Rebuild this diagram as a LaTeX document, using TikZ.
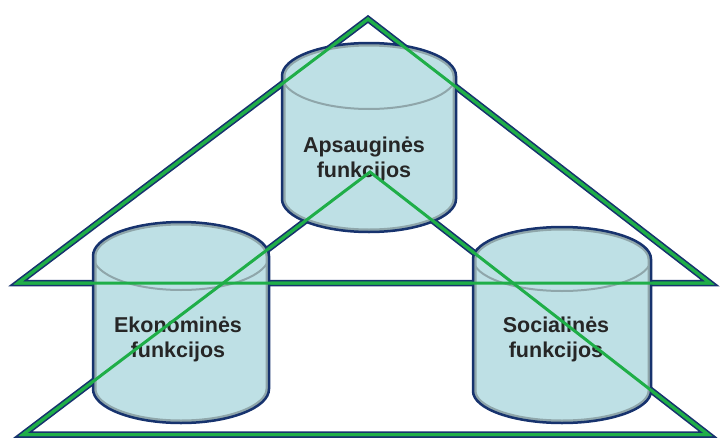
\documentclass[tikz,border=0pt]{standalone}
\usepackage{fontspec}
\setmainfont{Liberation Sans}
\definecolor{navy}{HTML}{17336E}
\definecolor{grn}{HTML}{1FAE48}
\definecolor{cylfill}{HTML}{BEE0E5}
\definecolor{rim}{HTML}{8FA6AA}
\definecolor{txt}{HTML}{262626}
\begin{document}
\begin{tikzpicture}[x=1pt,y=-1pt,
  navyline/.style={navy, line width=6.5pt, line join=miter},
  grnline/.style={grn, line width=3pt, line join=miter},
  lbl/.style={text=txt, font=\bfseries\fontsize{21.5}{25}\selectfont, inner sep=0pt, anchor=base}]
\useasboundingbox (0,0) rectangle (720,439);
% triangle vertices
\coordinate (ta) at (368,19);
\coordinate (tl) at (18,283);
\coordinate (tr) at (710,283);
\coordinate (ba) at (370,172);
\coordinate (bl) at (23,434.5);
\coordinate (br) at (708,434.5);
% triangles (outline)
\draw[navyline] (ta) -- (tl) -- (tr) -- cycle;
\draw[navyline] (ba) -- (bl) -- (br) -- cycle;
\draw[grnline] (ta) -- (tl) -- (tr) -- cycle;
\draw[grnline] (ba) -- (bl) -- (br) -- cycle;
% cylinders: cx, top, ry, bottom, rx
\foreach \cx/\tp/\ry/\bt/\rx in {369/43/33/232/87, 181/222/34/423/88, 562/227/32/423/89}{
  \pgfmathsetmacro{\ya}{\tp+\ry}
  \pgfmathsetmacro{\yb}{\bt-\ry}
  \pgfmathsetmacro{\xl}{\cx-\rx}
  \pgfmathsetmacro{\xr}{\cx+\rx}
  \fill[cylfill] (\xl,\ya) -- (\xl,\yb) arc[start angle=180, end angle=0, x radius=\rx, y radius=\ry]
    -- (\xr,\ya) arc[start angle=0, end angle=-180, x radius=\rx, y radius=\ry] -- cycle;
  \begin{scope}
    \clip (\xl,\ya) -- (\xl,\yb) arc[start angle=180, end angle=0, x radius=\rx, y radius=\ry]
      -- (\xr,\ya) arc[start angle=0, end angle=-180, x radius=\rx, y radius=\ry] -- cycle;
    \draw[rim, line width=7pt] (\xl,\ya) -- (\xl,\yb) arc[start angle=180, end angle=0, x radius=\rx, y radius=\ry]
      -- (\xr,\ya) arc[start angle=0, end angle=-180, x radius=\rx, y radius=\ry] -- cycle;
  \end{scope}
  \draw[rim, line width=2pt] (\xl,\ya) arc[start angle=180, end angle=0, x radius=\rx, y radius=\ry];
  \draw[navy, line width=2.5pt] (\xl,\ya) -- (\xl,\yb) arc[start angle=180, end angle=0, x radius=\rx, y radius=\ry]
    -- (\xr,\ya) arc[start angle=0, end angle=-180, x radius=\rx, y radius=\ry] -- cycle;
}
% labels
\node[lbl] (a1) at (364,152) {Apsauginės};
\node[lbl] (a2) at (364,177) {funkcijos};
\node[lbl] (e1) at (178,332) {Ekonominės};
\node[lbl] (e2) at (178,357) {funkcijos};
\node[lbl] (s1) at (556,332) {Socialinės};
\node[lbl] (s2) at (556,357) {funkcijos};
% green lines on top
\draw[grnline] (ta) -- (tl) -- (tr) -- cycle;
\draw[grnline] (ba) -- (bl) -- (br) -- cycle;
\end{tikzpicture}
\end{document}
